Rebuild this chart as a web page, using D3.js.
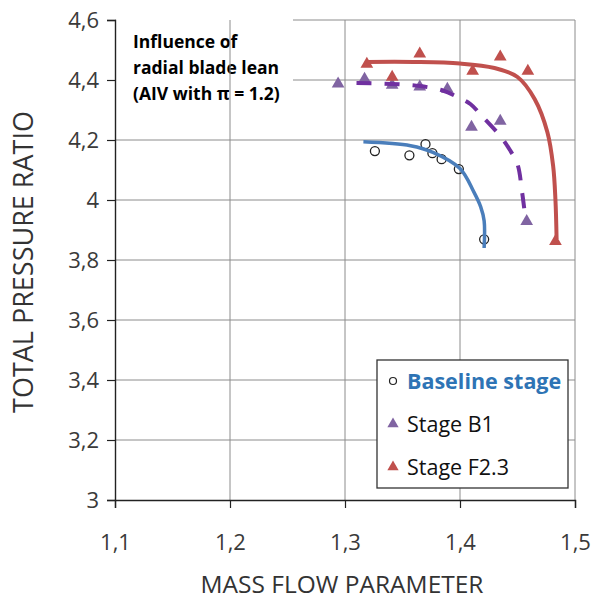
<!DOCTYPE html>
<html>
<head>
<meta charset="utf-8">
<script src="https://cdn.jsdelivr.net/npm/d3@7"></script>
<style>
  html, body { margin: 0; padding: 0; background: #fff; }
  svg { display: block; font-family: "Open Sans", Lato, sans-serif; }
</style>
</head>
<body>
<svg id="chart" width="594" height="608"></svg>
<script>
// Measured compressor operating points: [mass flow parameter, total pressure ratio]
const baselinePoints = [
  [1.326, 4.163], [1.356, 4.149], [1.370, 4.186], [1.376, 4.156],
  [1.384, 4.136], [1.399, 4.103], [1.421, 3.869]
];
const stageB1Points = [
  [1.294, 4.387], [1.317, 4.403], [1.341, 4.383], [1.365, 4.377],
  [1.389, 4.370], [1.410, 4.243], [1.435, 4.263], [1.458, 3.929]
];
const stageF23Points = [
  [1.319, 4.453], [1.341, 4.410], [1.365, 4.487], [1.411, 4.430],
  [1.435, 4.477], [1.459, 4.430], [1.483, 3.862]
];

// Speed-line trend curves through each data set
const baselineTrend = [
  [1.316, 4.194], [1.357, 4.181], [1.377, 4.158], [1.400, 4.105],
  [1.412, 4.027], [1.418, 3.977], [1.421, 3.930], [1.421, 3.840]
];
const stageB1Trend = [
  [1.310, 4.390], [1.340, 4.387], [1.365, 4.380], [1.385, 4.365],
  [1.397, 4.345], [1.409, 4.320], [1.419, 4.280], [1.435, 4.213],
  [1.443, 4.169], [1.450, 4.119], [1.454, 4.026], [1.457, 3.936]
];
const stageF23Trend = [
  [1.319, 4.460], [1.360, 4.460], [1.400, 4.455], [1.430, 4.440],
  [1.450, 4.410], [1.465, 4.336], [1.476, 4.226], [1.481, 4.113],
  [1.483, 4.000], [1.484, 3.870]
];

const xTicks = [1.1, 1.2, 1.3, 1.4, 1.5];
const yTicks = [3, 3.2, 3.4, 3.6, 3.8, 4, 4.2, 4.4, 4.6];
const legendLabels = ["Baseline stage", "Stage B1", "Stage F2.3"];
const noteLines = ["Influence of", "radial blade lean", "(AIV with \u03C0 = 1.2)"];

const svg = d3.select("#chart");
const x = d3.scaleLinear().domain([1.1, 1.5]).range([115, 575]);
const y = d3.scaleLinear().domain([3, 4.6]).range([500, 20]);
const fmt = d => String(d).replace(".", ",");

const colors = { baseline: "#4A7EBB", b1: "#8064A2", b1Line: "#7030A0", f23: "#C0504D" };
const gridColor = "#8c8c8c";

// Horizontal grid
svg.append("g").attr("stroke", gridColor).attr("stroke-width", 1)
  .selectAll("line").data(yTicks.slice(1)).join("line")
  .attr("x1", x(1.1)).attr("x2", x(1.5))
  .attr("y1", d => y(d)).attr("y2", d => y(d));

// Note box (white filled, sits over the horizontal grid)
const note = svg.append("g");
note.append("rect").attr("x", x(1.1) + 1).attr("y", y(4.6) - 1)
  .attr("width", 177).attr("height", 112).attr("fill", "#fff");
note.selectAll("text").data(noteLines).join("text")
  .attr("x", 133).attr("y", (d, i) => 48 + i * 26)
  .attr("font-size", 17.5).attr("font-weight", "bold").attr("fill", "#000")
  .text(d => d);

// Vertical grid
svg.append("g").attr("stroke", gridColor).attr("stroke-width", 1)
  .selectAll("line").data(xTicks.slice(1)).join("line")
  .attr("x1", d => x(d)).attr("x2", d => x(d))
  .attr("y1", y(4.6)).attr("y2", y(3));

// Axes
const xAxis = d3.axisBottom(x).tickValues(xTicks).tickFormat(fmt).tickSize(8).tickPadding(26);
const yAxis = d3.axisLeft(y).tickValues(yTicks).tickFormat(fmt).tickSize(8).tickPadding(8);
const gx = svg.append("g").attr("transform", `translate(0,${y(3)})`).call(xAxis);
const gy = svg.append("g").attr("transform", `translate(${x(1.1)},0)`).call(yAxis);
[gx, gy].forEach(g => {
  g.select(".domain").attr("stroke", "#222").attr("stroke-width", 1.4);
  g.selectAll(".tick line").attr("stroke", "#222").attr("stroke-width", 1.2);
  g.selectAll(".tick text").attr("fill", "#3a3a3a").attr("font-size", 22)
    .attr("font-family", "'Open Sans', Lato, sans-serif");
});

// Axis titles
svg.append("text").attr("x", 342).attr("y", 593).attr("text-anchor", "middle")
  .attr("font-size", 24.5).attr("fill", "#333").text("MASS FLOW PARAMETER");
svg.append("text").attr("transform", "translate(33,262) rotate(-90)")
  .attr("text-anchor", "middle").attr("font-size", 27).attr("fill", "#333")
  .text("TOTAL PRESSURE RATIO");

// Markers
const tri = d3.symbol().type(d3.symbolTriangle).size(70);
const line = d3.line().x(d => x(d[0])).y(d => y(d[1])).curve(d3.curveCatmullRom.alpha(0.5));

svg.append("g").selectAll("path").data(stageB1Points).join("path")
  .attr("d", tri).attr("transform", d => `translate(${x(d[0])},${y(d[1])})`)
  .attr("fill", colors.b1);
svg.append("g").selectAll("path").data(stageF23Points).join("path")
  .attr("d", tri).attr("transform", d => `translate(${x(d[0])},${y(d[1])})`)
  .attr("fill", colors.f23);
svg.append("g").selectAll("circle").data(baselinePoints).join("circle")
  .attr("cx", d => x(d[0])).attr("cy", d => y(d[1])).attr("r", 4.5)
  .attr("fill", "none").attr("stroke", "#222").attr("stroke-width", 1.3);

// Trend curves
svg.append("path").datum(baselineTrend).attr("d", line)
  .attr("fill", "none").attr("stroke", colors.baseline).attr("stroke-width", 3.5);
svg.append("path").datum(stageB1Trend).attr("d", line)
  .attr("fill", "none").attr("stroke", colors.b1Line).attr("stroke-width", 4)
  .attr("stroke-dasharray", "15,13");
svg.append("path").datum(stageF23Trend).attr("d", line)
  .attr("fill", "none").attr("stroke", colors.f23).attr("stroke-width", 4);

// Legend
const lg = svg.append("g");
lg.append("rect").attr("x", 377).attr("y", 360).attr("width", 191).attr("height", 128)
  .attr("fill", "#fff").attr("stroke", "#333").attr("stroke-width", 1.3);
const rows = lg.selectAll("g.row").data(legendLabels).join("g")
  .attr("transform", (d, i) => `translate(393,${381 + i * 43})`);
rows.each(function (d, i) {
  const g = d3.select(this);
  if (i === 0) {
    g.append("circle").attr("r", 3.5).attr("fill", "none").attr("stroke", "#222").attr("stroke-width", 1.2);
  } else {
    g.append("path").attr("d", d3.symbol().type(d3.symbolTriangle).size(55))
      .attr("fill", i === 1 ? colors.b1 : colors.f23);
  }
  g.append("text").attr("x", 14).attr("y", 7.5).attr("font-size", 21.5)
    .attr("font-weight", i === 0 ? "bold" : "normal")
    .attr("fill", i === 0 ? "#2E74B5" : "#111").text(d);
});
</script>
</body>
</html>
